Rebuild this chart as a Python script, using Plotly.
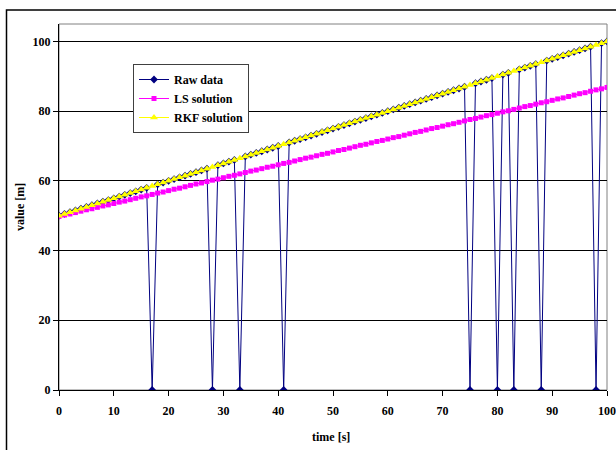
import plotly.graph_objects as go

# ---- data ----
time_s = list(range(0, 101))

raw_data = [
    50, 50.5, 51, 51.5, 52, 52.5, 53, 53.5, 54, 54.5,
    55, 55.5, 56, 56.5, 57, 57.5, 58, 0, 59, 59.5,
    60, 60.5, 61, 61.5, 62, 62.5, 63, 63.5, 0, 64.5,
    65, 65.5, 66, 0, 67, 67.5, 68, 68.5, 69, 69.5,
    70, 0, 71, 71.5, 72, 72.5, 73, 73.5, 74, 74.5,
    75, 75.5, 76, 76.5, 77, 77.5, 78, 78.5, 79, 79.5,
    80, 80.5, 81, 81.5, 82, 82.5, 83, 83.5, 84, 84.5,
    85, 85.5, 86, 86.5, 87, 0, 88, 88.5, 89, 89.5,
    0, 90.5, 91, 0, 92, 92.5, 93, 93.5, 0, 94.5,
    95, 95.5, 96, 96.5, 97, 97.5, 98, 98.5, 0, 99.5,
    100,
]

ls_solution = [
    49.8, 50.2, 50.5, 50.9, 51.3, 51.7, 52.0, 52.4, 52.8, 53.1,
    53.5, 53.9, 54.2, 54.6, 55.0, 55.4, 55.7, 56.1, 56.5, 56.8,
    57.2, 57.6, 57.9, 58.3, 58.7, 59.1, 59.4, 59.8, 60.2, 60.5,
    60.9, 61.3, 61.6, 62.0, 62.4, 62.8, 63.1, 63.5, 63.9, 64.2,
    64.6, 65.0, 65.3, 65.7, 66.1, 66.5, 66.8, 67.2, 67.6, 67.9,
    68.3, 68.7, 69.0, 69.4, 69.8, 70.2, 70.5, 70.9, 71.3, 71.6,
    72.0, 72.4, 72.7, 73.1, 73.5, 73.9, 74.2, 74.6, 75.0, 75.3,
    75.7, 76.1, 76.4, 76.8, 77.2, 77.6, 77.9, 78.3, 78.7, 79.0,
    79.4, 79.8, 80.1, 80.5, 80.9, 81.3, 81.6, 82.0, 82.4, 82.7,
    83.1, 83.5, 83.8, 84.2, 84.6, 85.0, 85.3, 85.7, 86.1, 86.4,
    86.8,
]

rkf_solution = [
    50, 50.5, 51, 51.5, 52, 52.5, 53, 53.5, 54, 54.5,
    55, 55.5, 56, 56.5, 57, 57.5, 58, 58.5, 59, 59.5,
    60, 60.5, 61, 61.5, 62, 62.5, 63, 63.5, 64, 64.5,
    65, 65.5, 66, 66.5, 67, 67.5, 68, 68.5, 69, 69.5,
    70, 70.5, 71, 71.5, 72, 72.5, 73, 73.5, 74, 74.5,
    75, 75.5, 76, 76.5, 77, 77.5, 78, 78.5, 79, 79.5,
    80, 80.5, 81, 81.5, 82, 82.5, 83, 83.5, 84, 84.5,
    85, 85.5, 86, 86.5, 87, 87.5, 88, 88.5, 89, 89.5,
    90, 90.5, 91, 91.5, 92, 92.5, 93, 93.5, 94, 94.5,
    95, 95.5, 96, 96.5, 97, 97.5, 98, 98.5, 99, 99.5,
    100,
]

y_ticks = [0, 20, 40, 60, 80, 100]
x_ticks = [0, 10, 20, 30, 40, 50, 60, 70, 80, 90, 100]

FONT = "Liberation Serif, Times New Roman, serif"

fig = go.Figure()
fig.add_trace(go.Scatter(
    x=time_s, y=raw_data, name="Raw data", mode="lines+markers",
    line=dict(color="#000080", width=1),
    marker=dict(symbol="diamond", size=6, color="#000080"),
))
fig.add_trace(go.Scatter(
    x=time_s, y=ls_solution, name="LS solution", mode="lines+markers",
    line=dict(color="#FF00FF", width=1),
    marker=dict(symbol="square", size=5, color="#FF00FF"),
))
fig.add_trace(go.Scatter(
    x=time_s, y=rkf_solution, name="RKF solution", mode="lines+markers",
    line=dict(color="#FFFF00", width=1),
    marker=dict(symbol="triangle-up", size=7, color="#FFFF00"),
))

L, R, T, B = 59, 9, 24, 60
W, H = 616, 450
pw, ph = W - L - R, H - T - B

def px(xp):
    return (xp - L) / pw

def py(yp):
    return (H - B - yp) / ph

fig.update_layout(
    width=W, height=H,
    margin=dict(l=L, r=R, t=T, b=B, autoexpand=False),
    paper_bgcolor="white", plot_bgcolor="white",
    font=dict(family=FONT, size=12, color="black"),
    showlegend=True,
    legend=dict(
        x=px(133), y=py(64), xanchor="left", yanchor="top",
        bgcolor="white", bordercolor="#404040", borderwidth=1,
        font=dict(family=FONT, size=12, color="black", weight="bold"),
        tracegroupgap=0, itemwidth=30,
    ),
    xaxis=dict(
        range=[0, 100], tickvals=x_ticks, ticktext=[str(v) for v in x_ticks],
        showgrid=False, zeroline=False, automargin=False,
        showline=True, linecolor="black", linewidth=1,
        ticks="outside", ticklen=5, tickcolor="black",
        ticklabelstandoff=5,
        tickfont=dict(family=FONT, size=12, color="black", weight="bold"),
    ),
    yaxis=dict(
        range=[0, 105], tickvals=y_ticks, ticktext=[str(v) for v in y_ticks],
        showgrid=True, gridcolor="black", gridwidth=1, zeroline=False,
        automargin=False,
        showline=True, linecolor="black", linewidth=1,
        ticks="outside", ticklen=5, tickcolor="black",
        tickfont=dict(family=FONT, size=12, color="black", weight="bold"),
    ),
    shapes=[
        dict(type="rect", xref="paper", yref="paper", x0=0, x1=1, y0=0, y1=1,
             line=dict(color="#808080", width=1), layer="below"),
        dict(type="rect", xref="paper", yref="paper",
             x0=px(6.5), x1=px(625), y0=py(10), y1=py(470),
             line=dict(color="black", width=1.5), layer="above"),
    ],
    annotations=[
        dict(text="<b>time [s]</b>", xref="paper", yref="paper",
             x=px(331), y=py(437), xanchor="center", yanchor="middle",
             showarrow=False, font=dict(family=FONT, size=12, color="black")),
        dict(text="<b>value [m]</b>", xref="paper", yref="paper",
             x=px(20), y=py(207), xanchor="center", yanchor="middle",
             textangle=-90, showarrow=False,
             font=dict(family=FONT, size=12, color="black")),
    ],
)

fig.write_html("out.html")
